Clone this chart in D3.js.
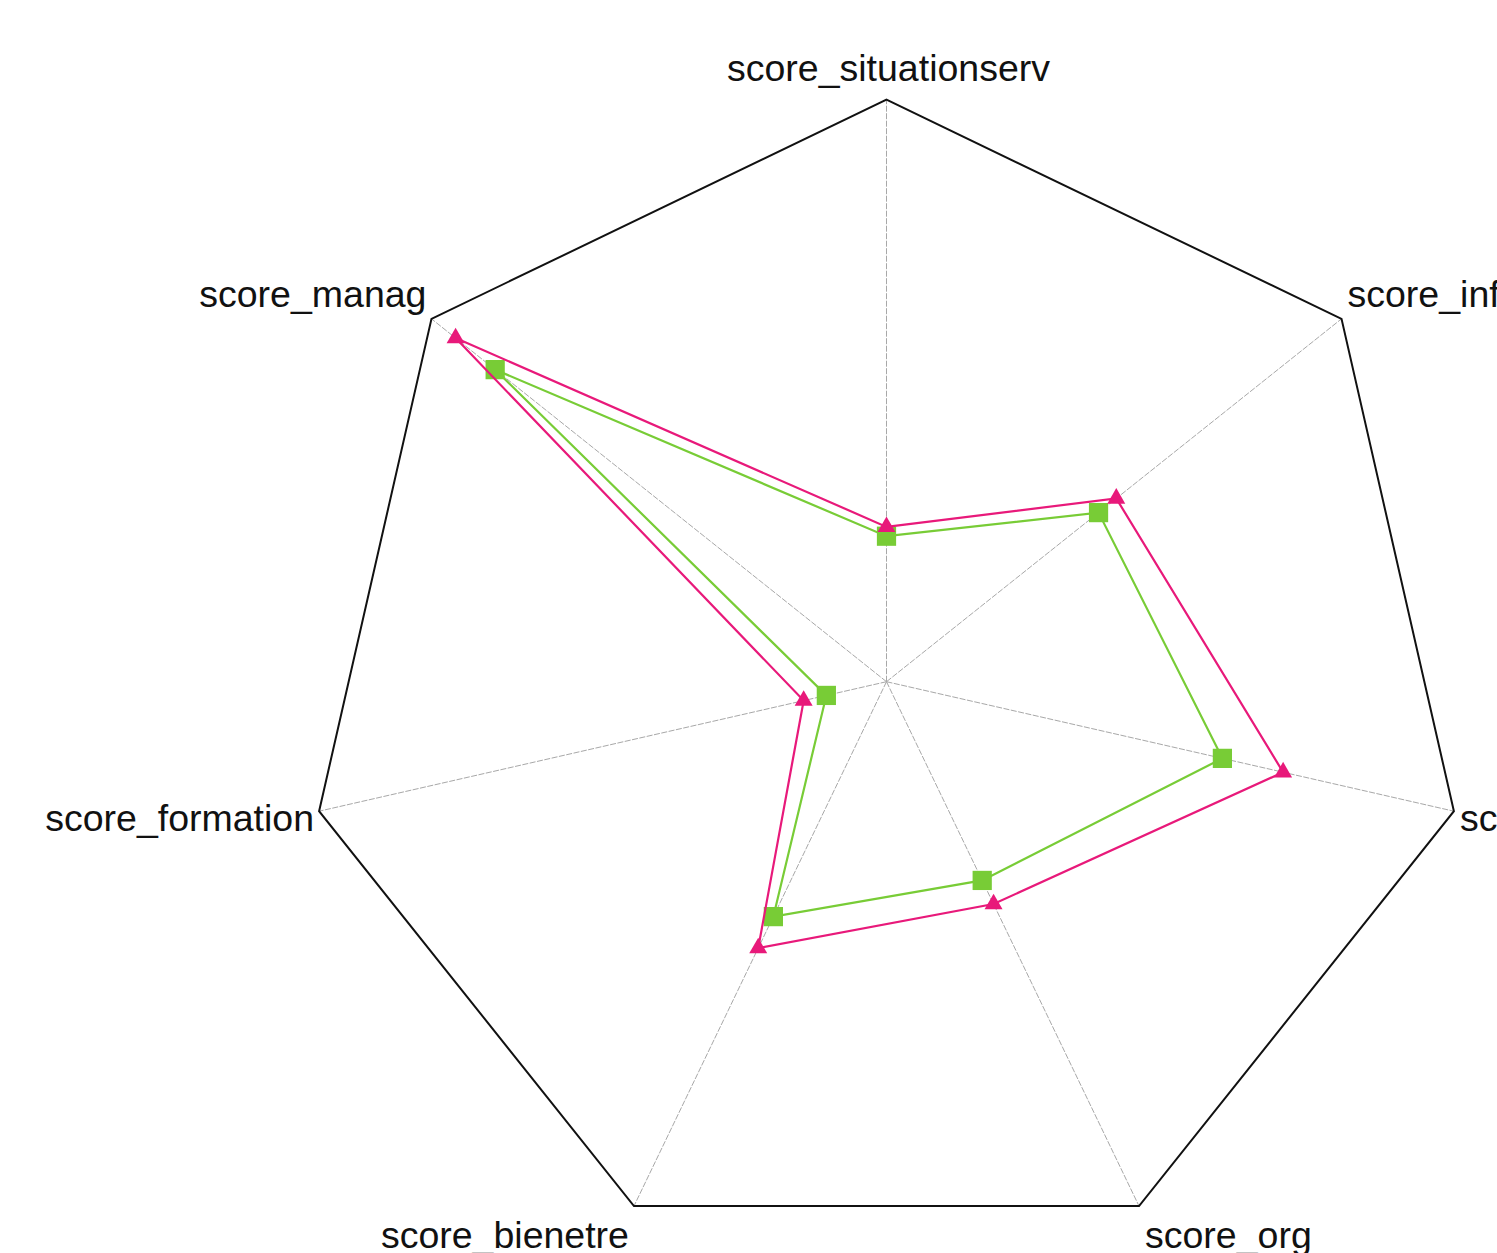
<!DOCTYPE html>
<html><head><meta charset="utf-8">
<script src="https://cdn.jsdelivr.net/npm/d3@7"></script>
<style>html,body{margin:0;padding:0;background:#fff;overflow:hidden}</style>
</head><body>
<svg id="chart" width="1497" height="1253"></svg>
<script>
const axes = ["score_situationserv","score_info","score_conditions","score_org","score_bienetre","score_formation","score_manag"];
const seriesPink = [0.266, 0.505, 0.699, 0.424, 0.508, 0.146, 0.947];
const seriesGreen = [0.250, 0.466, 0.592, 0.379, 0.448, 0.106, 0.860];
const valueRange = [0, 1];

const svg = d3.select("#chart");
const cx = 886.5, cy = 681.7, R = 582;
const r = d3.scaleLinear().domain(valueRange).range([0, R]);
const ang = d3.scalePoint().domain(axes).range([0, 2*Math.PI*(axes.length-1)/axes.length]);
const pt = (a, v) => [cx + r(v)*Math.sin(ang(a)), cy - r(v)*Math.cos(ang(a))];

// spokes
svg.append("g").selectAll("line").data(axes).join("line")
  .attr("x1", cx).attr("y1", cy)
  .attr("x2", d => pt(d, 1)[0]).attr("y2", d => pt(d, 1)[1])
  .attr("stroke", "#a8a8a8").attr("stroke-width", 1).attr("stroke-dasharray", "6,1.5");

// outer polygon
const lineGen = d3.line().curve(d3.curveLinearClosed);
svg.append("path").attr("d", lineGen(axes.map(a => pt(a, 1))))
  .attr("fill", "none").attr("stroke", "#111").attr("stroke-width", 2);

// labels
svg.append("g").selectAll("text").data(axes).join("text")
  .attr("font-family", "'Liberation Sans', Arial, sans-serif").attr("font-size", 37.5).attr("fill", "#111")
  .each(function(d) {
    const s = Math.sin(ang(d)), c = Math.cos(ang(d));
    const [x, y] = pt(d, 1);
    const anchor = s > 0.1 ? "start" : (s < -0.1 ? "end" : "middle");
    const dx = s > 0.1 ? 6 : (s < -0.1 ? -5 : 2);
    let dy;
    if (c > 0.9) dy = -19; else if (c > 0.5) dy = -12; else if (c > -0.5) dy = 20; else dy = 42;
    d3.select(this).attr("x", x + dx).attr("y", y + dy).attr("text-anchor", anchor).text(d);
  });

function drawSeries(vals, color, shape, size) {
  const pts = axes.map((a, i) => pt(a, vals[i]));
  svg.append("path").attr("d", lineGen(pts)).attr("fill", "none")
    .attr("stroke", color).attr("stroke-width", 2.2);
  svg.append("g").selectAll("path").data(pts).join("path")
    .attr("transform", p => `translate(${p[0]},${p[1]})`)
    .attr("d", d3.symbol().type(shape).size(size))
    .attr("fill", color);
}
drawSeries(seriesGreen, "#78cc36", d3.symbolSquare, 370);
drawSeries(seriesPink, "#e8197a", d3.symbolTriangle, 140);
</script>
</body></html>
